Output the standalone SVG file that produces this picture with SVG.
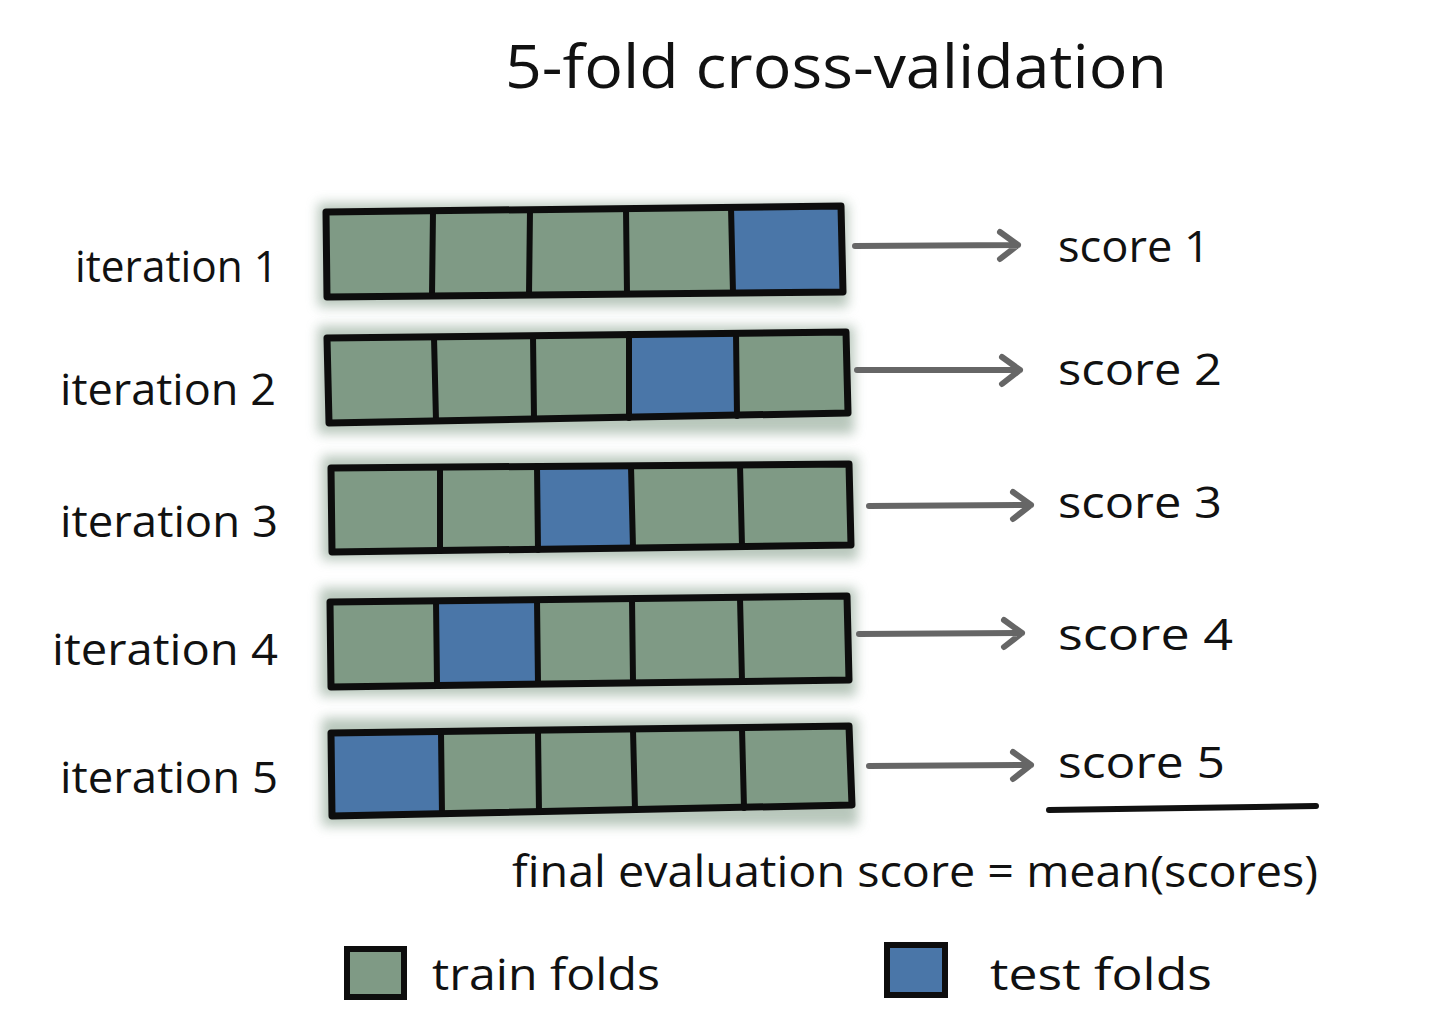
<svg xmlns="http://www.w3.org/2000/svg" width="1430" height="1032" viewBox="0 0 1430 1032">
<defs>
<style>
.t{font-family:"Open Sans","DejaVu Sans",sans-serif;fill:#111;}
.lbl{font-size:44px;}
.ttl{font-size:60px;}
.tr{fill:#7f9a85;}
.ts{fill:#4a76a8;}
.out{fill:none;stroke:#0d0d0d;stroke-width:7;stroke-linejoin:round;}
.div{stroke:#0d0d0d;stroke-width:6;stroke-linecap:round;}
.arr{stroke:#666;stroke-width:6;fill:none;stroke-linecap:round;stroke-linejoin:round;}
.sh{fill:#7f9a85;opacity:0.55;filter:url(#blur);}
</style>
<filter id="blur" x="-10%" y="-30%" width="120%" height="160%"><feGaussianBlur stdDeviation="6"/></filter>
</defs>
<rect width="1430" height="1032" fill="#fff"/>
<g id="title"><text class="t ttl" x="505" y="88" textLength="662" lengthAdjust="spacingAndGlyphs">5-fold cross-validation</text></g>

<g id="iter1">
<rect class="sh" x="318" y="203" width="530" height="104"/>
<polygon class="tr" points="326,212 841,206 843,292 327,297"/>
<polygon class="ts" points="731,207 841,206 843,292 733,294"/>
<line class="div" x1="433" y1="211" x2="432" y2="296"/>
<line class="div" x1="530" y1="210" x2="529" y2="295"/>
<line class="div" x1="626" y1="209" x2="627" y2="294"/>
<line class="div" x1="731" y1="207" x2="733" y2="293"/>
<polygon class="out" points="326,212 841,206 843,292 327,297"/>
<text class="t lbl" x="75" y="282" textLength="203" lengthAdjust="spacingAndGlyphs">iteration 1</text>
</g>
<g id="iter2">
<rect class="sh" x="318" y="326" width="536" height="108"/>
<polygon class="tr" points="327,338 846,332 848,413 329,423"/>
<polygon class="ts" points="629,334 736,333 737,416 629,418"/>
<line class="div" x1="434" y1="337" x2="436" y2="421"/>
<line class="div" x1="533" y1="336" x2="534" y2="419"/>
<line class="div" x1="629" y1="334" x2="629" y2="418"/>
<line class="div" x1="736" y1="333" x2="737" y2="416"/>
<polygon class="out" points="327,338 846,332 848,413 329,423"/>
<text class="t lbl" x="60" y="405" textLength="216" lengthAdjust="spacingAndGlyphs">iteration 2</text>
</g>
<g id="iter3">
<rect class="sh" x="322" y="456" width="536" height="104"/>
<polygon class="tr" points="331,468 849,464 851,545 332,552"/>
<polygon class="ts" points="537,466 631,466 633,548 538,550"/>
<line class="div" x1="440" y1="467" x2="440" y2="551"/>
<line class="div" x1="537" y1="466" x2="538" y2="550"/>
<line class="div" x1="631" y1="466" x2="633" y2="548"/>
<line class="div" x1="740" y1="465" x2="742" y2="546"/>
<polygon class="out" points="331,468 849,464 851,545 332,552"/>
<text class="t lbl" x="60" y="537" textLength="218" lengthAdjust="spacingAndGlyphs">iteration 3</text>
</g>
<g id="iter4">
<rect class="sh" x="320" y="588" width="536" height="108"/>
<polygon class="tr" points="330,602 847,596 849,680 331,687"/>
<polygon class="ts" points="436,601 537,600 538,684 437,685"/>
<line class="div" x1="436" y1="601" x2="437" y2="685"/>
<line class="div" x1="537" y1="600" x2="538" y2="684"/>
<line class="div" x1="632" y1="599" x2="633" y2="682"/>
<line class="div" x1="740" y1="598" x2="742" y2="681"/>
<polygon class="out" points="330,602 847,596 849,680 331,687"/>
<text class="t lbl" x="52" y="665" textLength="226" lengthAdjust="spacingAndGlyphs">iteration 4</text>
</g>
<g id="iter5">
<rect class="sh" x="322" y="718" width="536" height="108"/>
<polygon class="tr" points="331,733 849,726 852,805 332,816"/>
<polygon class="ts" points="331,733 441,732 442,814 332,816"/>
<line class="div" x1="441" y1="732" x2="442" y2="814"/>
<line class="div" x1="538" y1="731" x2="539" y2="812"/>
<line class="div" x1="633" y1="730" x2="635" y2="810"/>
<line class="div" x1="742" y1="728" x2="744" y2="808"/>
<polygon class="out" points="331,733 849,726 852,805 332,816"/>
<text class="t lbl" x="60" y="793" textLength="218" lengthAdjust="spacingAndGlyphs">iteration 5</text>
</g>

<g id="connectors">
<path class="arr" d="M855,246 L1018,245 M1000,232 L1018,245 L1000,259"/>
<path class="arr" d="M857,370 L1020,370 M1002,357 L1020,370 L1002,384"/>
<path class="arr" d="M869,506 L1031,505 M1013,492 L1031,505 L1013,519"/>
<path class="arr" d="M859,634 L1022,633 M1004,620 L1022,633 L1004,647"/>
<path class="arr" d="M869,766 L1031,765 M1013,752 L1031,765 L1013,779"/>
</g>

<g id="scores">
<text class="t lbl" x="1058" y="262" textLength="152" lengthAdjust="spacingAndGlyphs">score 1</text>
<text class="t lbl" x="1058" y="385" textLength="164" lengthAdjust="spacingAndGlyphs">score 2</text>
<text class="t lbl" x="1058" y="518" textLength="164" lengthAdjust="spacingAndGlyphs">score 3</text>
<text class="t lbl" x="1058" y="650" textLength="175" lengthAdjust="spacingAndGlyphs">score 4</text>
<text class="t lbl" x="1058" y="778" textLength="167" lengthAdjust="spacingAndGlyphs">score 5</text>
</g>
<g id="mean">
<line x1="1049" y1="810" x2="1316" y2="806" stroke="#111" stroke-width="6" stroke-linecap="round"/>
<text class="t lbl" x="512" y="887" textLength="806" lengthAdjust="spacingAndGlyphs">final evaluation score = mean(scores)</text>
</g>
<g id="legend-train">
<rect x="347" y="949" width="57" height="48" class="tr" stroke="#0d0d0d" stroke-width="6"/>
<text class="t lbl" x="432" y="990" textLength="228" lengthAdjust="spacingAndGlyphs">train folds</text>
</g>
<g id="legend-test">
<rect x="887" y="945" width="58" height="50" class="ts" stroke="#0d0d0d" stroke-width="6"/>
<text class="t lbl" x="990" y="990" textLength="222" lengthAdjust="spacingAndGlyphs">test folds</text>
</g>
</svg>
